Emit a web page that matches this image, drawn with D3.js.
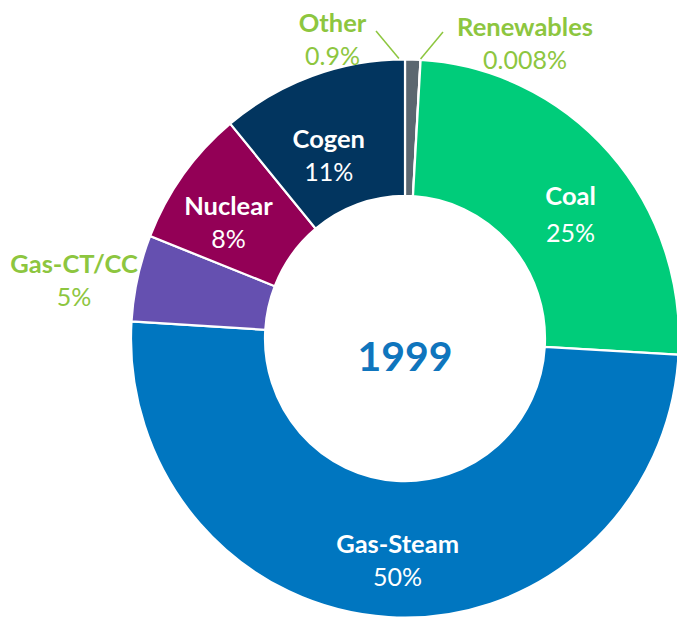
<!DOCTYPE html>
<html>
<head>
<meta charset="utf-8">
<script src="https://cdn.jsdelivr.net/npm/d3@7"></script>
<style>
  body { margin: 0; background: #fff; }
  #canvas { width: 677px; height: 618px; }
  text { font-family: Lato, "Open Sans", sans-serif; }
</style>
</head>
<body>
<div id="canvas" class="canvas"></div>
<script>
var w = 677, h = 618;

// data, clockwise from 12 o'clock
var names  = ['Other', 'Renewables', 'Coal', 'Gas-Steam', 'Gas-CT/CC', 'Nuclear', 'Cogen'];
var values = [0.9, 0.008, 25, 50, 5, 8, 11];
var pctLabels = ['0.9%', '0.008%', '25%', '50%', '5%', '8%', '11%'];
var yearLabel = '1999';

var colors = {
    'Other': '#5b6770', 'Renewables': '#8dc63f', 'Coal': '#00cc7a',
    'Gas-Steam': '#0076c0', 'Gas-CT/CC': '#6550b0', 'Nuclear': '#930056', 'Cogen': '#02355f'
};
var outside = { 'Other': true, 'Renewables': true, 'Gas-CT/CC': true };

// label tweaks relative to the slice centroid (name baseline)
var nudge = {
    'Coal': [11, 7], 'Gas-Steam': [5, 4], 'Nuclear': [-9, 0], 'Cogen': [-6, 8],
    'Gas-CT/CC': [-1, 9], 'Other': [-81, -1], 'Renewables': [103, 2]
};

var cx = 405, cy = 338.5, rOut = 274, rIn = 140, sy = 279 / 274;

var svg = d3.select('.canvas').append('svg')
    .attr('width', w).attr('height', h);

var rows = names.map(function(n, i){ return { name: n, value: values[i], pct: pctLabels[i] }; });

var pie = d3.pie().sort(null).value(function(d){ return d.value; }).startAngle(0).endAngle(2 * Math.PI);
var arc = d3.arc().innerRadius(rIn).outerRadius(rOut);
var arcs = pie(rows);

var ring = svg.append('g')
    .attr('transform', 'translate(' + cx + ',' + cy + ') scale(1,' + sy + ')');

ring.selectAll('.slice')
    .data(arcs)
    .enter()
    .append('path')
    .attr('class', 'slice')
    .attr('d', arc)
    .style('fill', function(d){ return colors[d.data.name]; })
    .style('stroke', '#fff')
    .style('stroke-width', 2.2);

// position of a point at angle a, radius r (screen coords)
function pt(a, r){ return [cx + r * Math.sin(a), cy - r * Math.cos(a) * sy]; }

var labels = svg.append('g');
arcs.forEach(function(d){
    var mid = (d.startAngle + d.endAngle) / 2;
    var r = outside[d.data.name] ? (d.data.name === 'Gas-CT/CC' ? 338 : 300) : 207;
    var p = pt(mid, r), n = nudge[d.data.name];
    var x = p[0] + n[0], y = p[1] + n[1];
    var fill = outside[d.data.name] ? '#8dc63f' : '#fff';
    labels.append('text').attr('x', x).attr('y', y)
        .attr('text-anchor', 'middle').style('font-weight', 700)
        .style('font-size', '25.5px').style('fill', fill).text(d.data.name);
    labels.append('text').attr('x', x).attr('y', y + (d.data.name === 'Coal' ? 37 : 33))
        .attr('text-anchor', 'middle').style('font-weight', 400)
        .style('font-size', '25px').style('fill', fill).text(d.data.pct);
});

// leader lines for the two tiny slices
var leaders = [
    { name: 'Other', from: -0.022, to: [376, 31] },
    { name: 'Renewables', from: 0, to: [443, 32] }
];
leaders.forEach(function(l){
    var a = arcs[names.indexOf(l.name)];
    var s = pt(a.startAngle + l.from, rOut + 1);
    svg.append('line')
        .attr('x1', s[0]).attr('y1', s[1]).attr('x2', l.to[0]).attr('y2', l.to[1])
        .style('stroke', '#8dc63f').style('stroke-width', 1.5);
});

svg.append('text')
    .attr('x', cx).attr('y', cy + 32)
    .attr('text-anchor', 'middle')
    .style('font-weight', 700).style('font-size', '41px').style('fill', '#0f75bd')
    .text(yearLabel);
</script>
</body>
</html>
